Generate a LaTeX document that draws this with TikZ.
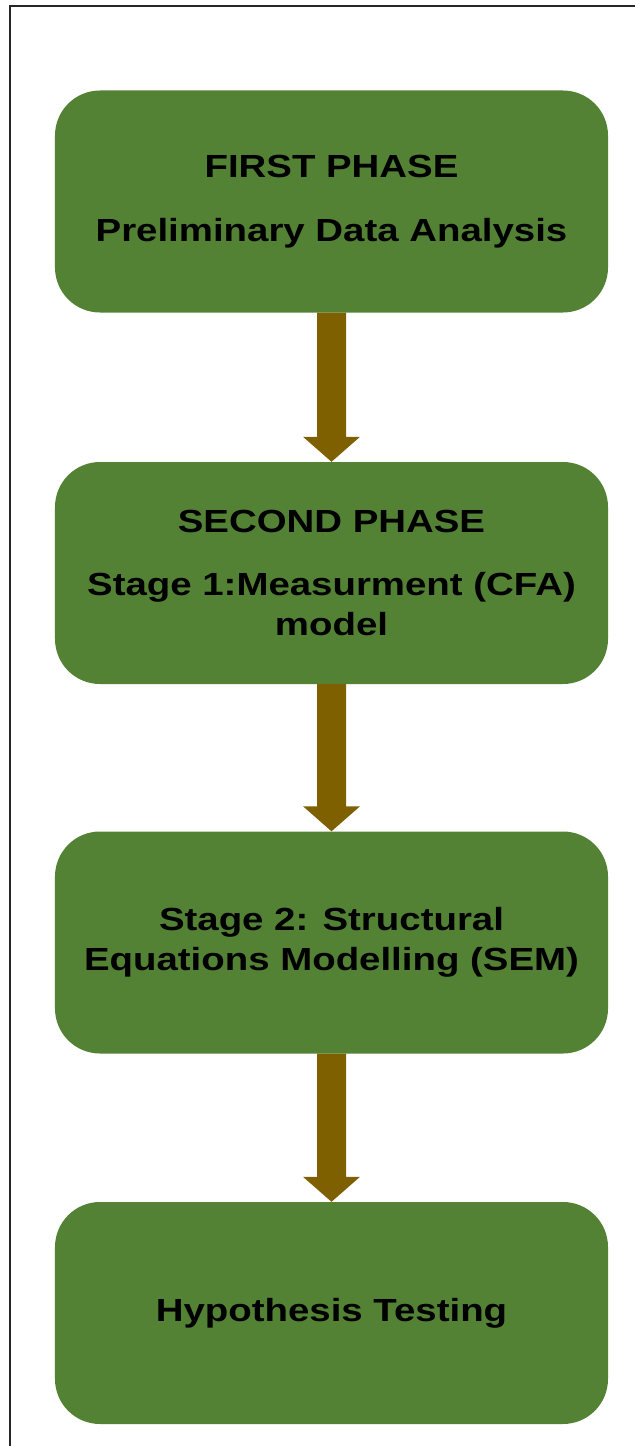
\documentclass[tikz,border=0pt]{standalone}
\usepackage{fontspec}
\setmainfont{Liberation Sans}[FakeStretch=1.2]
\usetikzlibrary{calc}
\definecolor{phasegreen}{HTML}{548235}
\definecolor{flowbrown}{HTML}{7F6000}
\tikzset{
  phasebox/.style={draw=none, fill=phasegreen, rounded corners=45bp,
    minimum width=553bp, minimum height=222bp, inner sep=0pt,
    align=center, text=black,
    font=\fontsize{32bp}{40bp}\selectfont\bfseries},
  flowarrow/.style={fill=flowbrown, draw=none}
}
% block arrow from the bottom of one box to the top of the next
\newcommand{\flowdown}[2]{%
  \fill[flowarrow] ($(#1.south)+(-14.5,0)$) -- ($(#2.north)+(-14.5,-25)$)
    -- ($(#2.north)+(-28.5,-25)$) -- (#2.north) -- ($(#2.north)+(28.5,-25)$)
    -- ($(#2.north)+(14.5,-25)$) -- ($(#1.south)+(14.5,0)$) -- cycle;}
\begin{document}
\begin{tikzpicture}[x=1bp,y=-1bp]
  \useasboundingbox (0,0) rectangle (635,1446);
  % frame lines along the top and left edges
  \draw[line width=2bp, black!85] (10,1446) -- (10,6) -- (635,6);

  \node[phasebox] (b1) at (331.5,201.5) {FIRST PHASE\\[24bp]Preliminary Data Analysis};
  \node[phasebox] (b2) at (331.5,573) {SECOND PHASE\\[23bp]Stage 1:Measurment (CFA)\\model};
  \node[phasebox] (b3) at (331.5,942.5) {Stage 2: Structural\\Equations Modelling (SEM)};
  \node[phasebox] (b4) at (331.5,1313) {Hypothesis Testing};

  \flowdown{b1}{b2}
  \flowdown{b2}{b3}
  \flowdown{b3}{b4}
\end{tikzpicture}
\end{document}
